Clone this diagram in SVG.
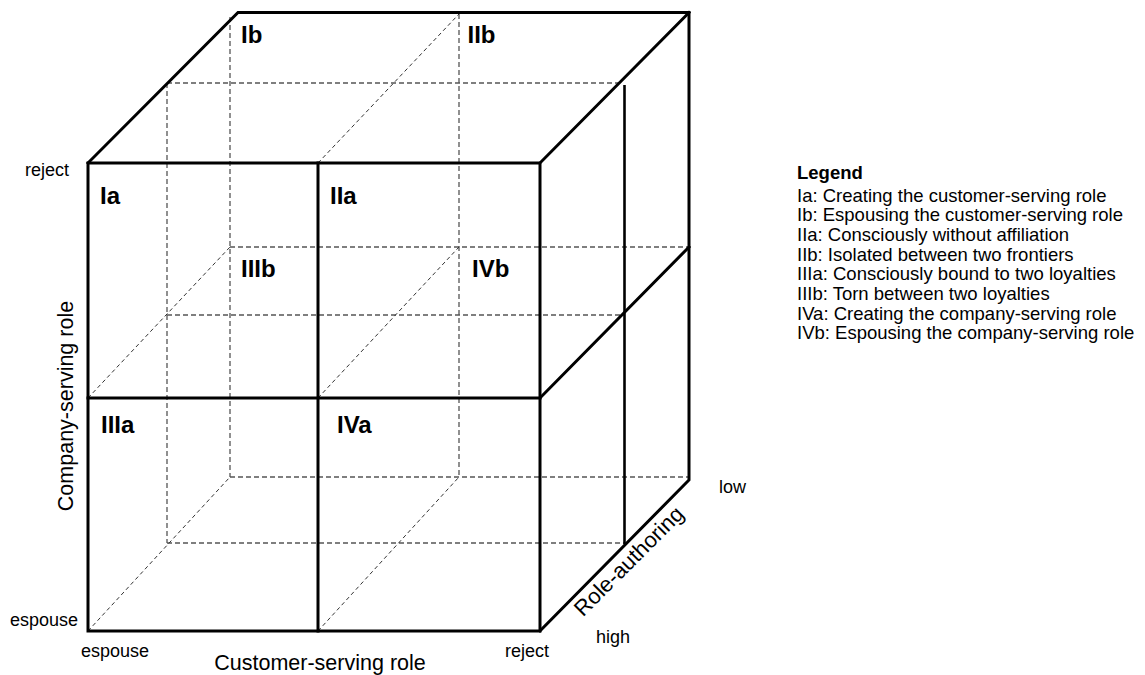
<svg xmlns="http://www.w3.org/2000/svg" width="1145" height="675" viewBox="0 0 1145 675">
<style>
.solid{stroke:#000;stroke-width:3;fill:none;stroke-linejoin:miter;stroke-linecap:square}
.dash{stroke:#555;stroke-width:1.3;fill:none;stroke-dasharray:5,3}
.diag{stroke:#333;stroke-width:1;fill:none;stroke-dasharray:4,3}
text{font-family:"Liberation Sans",Arial,sans-serif;fill:#000}
.cell{font-size:24px;font-weight:bold}
.small{font-size:18px}
.axis{font-size:21.5px}
.leg{font-size:18.5px}
.legh{font-size:18.5px;font-weight:bold}
</style>
<rect width="1145" height="675" fill="#fff"/>
<g id="hidden-lines">
<line class="dash" x1="167" y1="83" x2="622" y2="83"/>
<line class="dash" x1="230" y1="247" x2="689" y2="247"/>
<line class="dash" x1="167" y1="315" x2="624" y2="315"/>
<line class="dash" x1="230" y1="477" x2="689" y2="477"/>
<line class="dash" x1="167" y1="543" x2="624" y2="543"/>
<line class="dash" x1="167" y1="83" x2="167" y2="543"/>
<line class="dash" x1="230" y1="17" x2="230" y2="477"/>
<line class="dash" x1="459" y1="14" x2="459" y2="477"/>
<line class="diag" x1="88" y1="631" x2="230" y2="477"/>
<line class="diag" x1="88" y1="398" x2="230" y2="247"/>
<line class="diag" x1="318" y1="631" x2="459" y2="477"/>
<line class="diag" x1="318" y1="398" x2="459" y2="247"/>
<line class="diag" x1="318" y1="163" x2="459" y2="14"/>
</g>
<g id="cube-edges">
<rect class="solid" x="88" y="163" width="452" height="468"/>
<line class="solid" x1="318" y1="163" x2="318" y2="631"/>
<line class="solid" x1="88" y1="398" x2="540" y2="398"/>
<polyline class="solid" points="88,163 238,12.5 689,12.5 689,480 540,631"/>
<line class="solid" x1="540" y1="163" x2="689" y2="12.5"/>
<line class="solid" x1="540" y1="398" x2="689" y2="247"/>
<line class="solid" x1="624.5" y1="85" x2="624.5" y2="544" style="stroke-width:2.6;stroke-linecap:butt"/>
</g>
<g id="cells">
<g id="cell-Ib"><text class="cell" x="241" y="43">Ib</text></g>
<g id="cell-IIb"><text class="cell" x="467.5" y="43">IIb</text></g>
<g id="cell-Ia"><text class="cell" x="100" y="204">Ia</text></g>
<g id="cell-IIa"><text class="cell" x="330" y="204">IIa</text></g>
<g id="cell-IIIb"><text class="cell" x="241" y="277">IIIb</text></g>
<g id="cell-IVb"><text class="cell" x="472" y="277">IVb</text></g>
<g id="cell-IIIa"><text class="cell" x="101" y="433">IIIa</text></g>
<g id="cell-IVa"><text class="cell" x="337" y="433">IVa</text></g>
</g>
<g id="axis-labels">
<text class="small" x="25" y="176">reject</text>
<text class="small" x="10" y="626">espouse</text>
<text class="small" x="81" y="657">espouse</text>
<text class="small" x="505" y="657">reject</text>
<text class="small" x="596" y="643">high</text>
<text class="small" x="719" y="493">low</text>
<text class="axis" x="320" y="670" text-anchor="middle">Customer-serving role</text>
<text class="axis" transform="translate(73,406) rotate(-90)" text-anchor="middle">Company-serving role</text>
<text class="axis" transform="translate(583,617.5) rotate(-45)" style="font-size:22px">Role-authoring</text>
</g>
<g id="legend">
<text class="legh" x="797" y="179">Legend</text>
<text class="leg" x="797" y="201.5">Ia: Creating the customer-serving role</text>
<text class="leg" x="797" y="221.2">Ib: Espousing the customer-serving role</text>
<text class="leg" x="797" y="240.9">IIa: Consciously without affiliation</text>
<text class="leg" x="797" y="260.6">IIb: Isolated between two frontiers</text>
<text class="leg" x="797" y="280.3">IIIa: Consciously bound to two loyalties</text>
<text class="leg" x="797" y="300">IIIb: Torn between two loyalties</text>
<text class="leg" x="797" y="319.7">IVa: Creating the company-serving role</text>
<text class="leg" x="797" y="339.4">IVb: Espousing the company-serving role</text>
</g>
</svg>
